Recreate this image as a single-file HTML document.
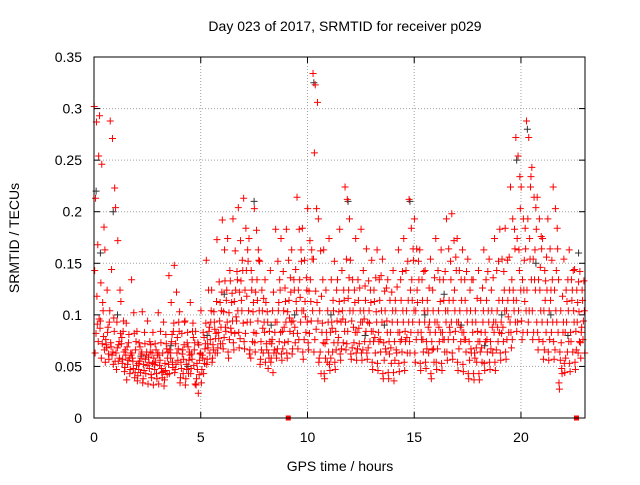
<!DOCTYPE html>
<html><head><meta charset="utf-8"><style>
body{margin:0;background:#fff}
svg text{font-family:"Liberation Sans",sans-serif;font-size:14px;fill:#000}
</style></head><body>
<svg id="c" width="640" height="480" xmlns="http://www.w3.org/2000/svg">
<text x="345" y="31" text-anchor="middle">Day 023 of 2017, SRMTID for receiver p029</text>
<text x="340" y="471" text-anchor="middle">GPS time / hours</text>
<text transform="translate(19,238) rotate(-90)" text-anchor="middle">SRMTID / TECUs</text>
<g id="grid"></g><g id="ticks"></g><g id="pts"></g>
<rect x="94" y="57" width="491" height="361" fill="none" stroke="#000"/>
</svg>
<script>
const xTicks=[0,5,10,15,20];
const yTicks=[0,0.05,0.1,0.15,0.2,0.25,0.3,0.35];
const yTickLabels=["0","0.05","0.1","0.15","0.2","0.25","0.3","0.35"];
const binWidth=0.25;
// red samples per 0.25h bin, units of 0.001 TECU
const redBins=[
"302,287,254,213,168,143,118,96,82,74,63,91","293,246,185,131,104,87,72,66,58,79,94,112","163,124,93,71,62,54,83,104,68,57,76,88","288,271,223,144,97,73,64,55,61,84,69,52",
"204,172,124,93,74,63,55,82,68,58,47,71","113,84,66,53,45,72,94,61,57,49,78,64","92,73,63,52,43,37,81,61,56,47,69,58","134,102,74,55,44,63,82,51,48,66,58,39",
"84,73,62,53,44,36,55,64,47,58,41,69","103,83,64,52,43,34,72,51,46,61,38,57","94,74,63,54,42,33,64,53,48,39,59,71","83,72,61,52,43,32,54,63,47,38,58,66",
"102,84,63,51,44,33,73,45,56,39,61,48","93,81,64,53,42,31,72,52,46,58,37,67","138,112,84,63,54,43,74,92,58,49,66,81","148,122,93,72,56,44,63,84,52,67,47,78",
"103,82,71,54,43,34,62,93,48,57,39,66","94,73,64,52,43,32,83,61,47,56,38,69","112,84,73,62,51,43,92,33,57,66,48,78","84,73,62,53,42,32,24,63,47,56,38,71",
"104,83,72,61,53,34,43,92,58,67,47,78","153,124,93,72,63,52,84,104,68,76,57,88","124,103,82,71,63,54,93,113,66,77,58,86","173,132,104,83,72,63,94,122,77,88,68,112",
"192,163,124,103,84,72,133,93,78,114,67,88","174,143,121,102,83,64,133,94,76,112,58,87","193,162,134,113,94,73,124,104,82,142,66,98","204,172,143,122,104,83,133,92,77,153,68,114",
"213,184,152,124,93,74,143,104,82,163,67,118","174,143,112,93,74,62,124,83,58,103,66,134","203,182,153,122,94,73,134,104,82,163,64,114","152,124,93,74,63,52,104,83,66,116,57,87",
"134,103,84,72,63,54,93,74,66,58,112,48","143,104,83,72,63,54,44,93,76,66,58,122","183,152,124,93,74,63,104,83,67,134,58,112","174,142,113,84,73,62,104,93,67,126,56,88",
"183,153,122,103,84,63,114,93,74,136,58,97","163,134,113,94,73,62,124,104,82,144,67,88","214,183,152,124,93,82,134,104,76,163,67,117","184,153,124,104,83,64,113,93,76,136,57,98",
"203,172,154,123,94,73,134,104,82,163,66,113","334,323,306,257,203,154,123,94,76,112,64,86","193,162,134,104,83,54,43,73,64,92,58,118","163,124,93,72,54,43,83,64,58,104,38,76",
"174,134,104,83,64,52,93,73,58,114,46,87","152,124,103,84,73,54,94,113,66,78,47,134","183,143,114,93,73,62,104,84,67,124,56,96","224,212,193,154,124,93,84,104,72,136,66,116",
"153,134,112,94,73,62,104,83,68,124,57,88","174,134,104,83,72,63,114,93,67,126,56,87","183,143,114,93,74,63,104,84,66,128,56,96","164,133,112,93,74,63,104,84,68,124,57,92",
"153,124,103,84,63,54,113,93,74,136,47,78","163,134,104,83,64,53,114,93,74,138,46,76","154,123,94,73,64,43,104,83,56,126,38,67","134,114,93,74,53,44,83,104,62,122,38,68",
"143,114,93,74,63,44,104,83,56,127,36,66","163,134,104,83,64,53,114,93,74,142,45,76","174,143,114,84,63,54,104,93,74,152,46,78","212,184,153,124,93,74,134,104,83,164,63,114",
"193,164,134,104,83,63,124,93,76,152,54,112","163,134,104,83,64,53,114,93,76,142,46,76","143,114,93,74,63,54,104,83,67,126,48,88","154,124,93,74,54,43,104,83,66,136,38,67",
"174,143,113,93,74,54,104,83,67,134,47,88","163,134,104,83,64,53,114,93,76,142,46,76","193,164,134,104,83,64,114,93,76,152,56,88","198,172,143,114,84,63,124,93,76,156,57,104",
"174,143,114,93,74,54,104,83,67,134,46,88","163,134,104,83,64,52,114,93,76,142,45,76","154,124,93,74,63,43,104,83,56,134,38,67","134,104,84,63,54,43,93,74,58,116,37,68",
"143,114,93,74,54,43,83,104,64,126,37,68","163,134,104,83,64,53,114,93,74,142,46,76","154,124,93,74,63,54,104,83,67,136,47,88","174,143,114,93,74,54,104,83,66,152,46,88",
"183,154,124,93,74,63,114,104,82,142,56,88","184,153,124,104,83,64,114,93,76,156,57,98","224,193,164,134,104,83,124,93,76,183,68,114","272,254,203,174,143,114,104,124,93,234,84,163",
"224,193,164,134,113,94,124,104,83,184,76,153","288,272,234,193,154,124,104,134,93,224,83,174","243,214,183,154,124,104,134,93,83,204,76,163","214,193,164,134,104,83,124,93,76,176,66,146",
"174,143,124,104,83,74,114,93,66,156,57,133","193,164,134,104,83,64,114,93,76,153,56,124","224,203,164,124,93,74,104,83,66,184,57,143","134,104,83,64,43,34,73,93,56,118,28,48",
"154,124,104,83,64,53,93,74,58,134,44,113","163,134,104,83,64,53,114,93,74,143,45,124","144,124,103,84,63,54,93,74,66,132,47,112","142,124,104,83,94,73,114,63,88,133,58,76"];
const blackTimes=[0.1,0.3,0.9,1.1,2.2,3.6,4.4,5.3,6.1,7.5,8.3,9.4,10.3,11.1,11.9,12.7,13.6,14.8,15.5,16.4,17.2,18.3,19.1,19.8,20.3,20.7,21.4,22.2,22.7];
const blackValues=[0.22,0.16,0.2,0.1,0.06,0.07,0.05,0.08,0.12,0.21,0.09,0.1,0.325,0.1,0.21,0.08,0.09,0.21,0.1,0.12,0.09,0.07,0.1,0.25,0.28,0.15,0.1,0.08,0.16];
const markerTimes=[9.1,22.6];
const X0=94,X1=585,Y0=418,Y1=57,XMAX=23,YMAX=0.35;
const xs=t=>X0+t/XMAX*(X1-X0), ys=v=>Y0-v/YMAX*(Y0-Y1);
const NS="http://www.w3.org/2000/svg";
const grid=document.getElementById('grid'),ticks=document.getElementById('ticks'),pts=document.getElementById('pts');
function mk(tag,attrs,parent){const e=document.createElementNS(NS,tag);for(const k in attrs)e.setAttribute(k,attrs[k]);parent.appendChild(e);return e;}
xTicks.forEach(t=>{const x=xs(t);
 if(t>0){const g=mk('line',{x1:x,x2:x,y1:Y0,y2:Y1,stroke:'#a0a0a0','stroke-dasharray':'1,2'},grid);
 
 }
 const l=mk('text',{x:x,y:Y0+24,'text-anchor':'middle'},ticks);l.textContent=t;
 
 
 mk('line',{x1:x,x2:x,y1:Y0,y2:Y0-6,stroke:'#000'},ticks);mk('line',{x1:x,x2:x,y1:Y1,y2:Y1+6,stroke:'#000'},ticks);});
yTicks.forEach((v,i)=>{const y=ys(v);
 if(v>0&&v<YMAX){const g=mk('line',{x1:X0,x2:X1,y1:y,y2:y,stroke:'#a0a0a0','stroke-dasharray':'1,2'},grid);
 
 }
 const l=mk('text',{x:X0-12,y:y+5,'text-anchor':'end'},ticks);l.textContent=yTickLabels[i];
 
 
 mk('line',{x1:X0,x2:X0+6,y1:y,y2:y,stroke:'#000'},ticks);mk('line',{x1:X1,x2:X1-6,y1:y,y2:y,stroke:'#000'},ticks);});
function cross(t,v){const x=xs(t),y=ys(v);return `M${x-3.5},${y}h7M${x},${y-3.5}v7`;}
let bd='';blackTimes.forEach((t,i)=>{bd+=cross(t,blackValues[i]);});
const bp=mk('path',{d:bd,stroke:'#333',fill:'none'},pts);


let rd='';
redBins.forEach((s,b)=>{const vals=s.split(',').map(Number);const n=vals.length;
 vals.forEach((v,j)=>{const t=b*binWidth+((j*5)%n+0.5)/n*binWidth;rd+=cross(t,v/1000);});});
const rp=mk('path',{d:rd,stroke:'#ff0000',fill:'none'},pts);


markerTimes.forEach(t=>{const m=mk('rect',{x:xs(t)-2.5,y:Y0-2.5,width:5,height:5,fill:'#ff0000'},pts);
 
 });
</script>
</body></html>
